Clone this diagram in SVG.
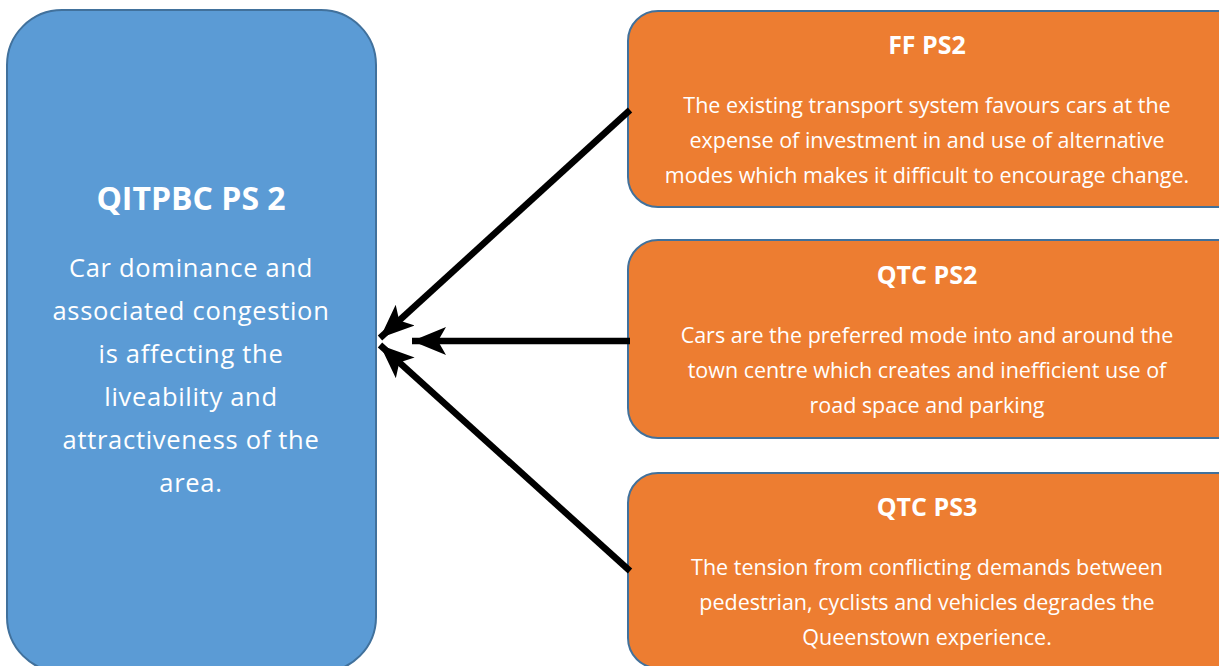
<svg xmlns="http://www.w3.org/2000/svg" width="1219" height="666" viewBox="0 0 1219 666">
<defs>
<style>
.blue{fill:#5B9BD5;stroke:#41719C;stroke-width:2}
.orange{fill:#ED7D31;stroke:#41719C;stroke-width:2}
text{font-family:"Open Sans","Liberation Sans",sans-serif;fill:#FFFFFF;text-anchor:middle}
.t1{font-size:32px;font-weight:bold}
.b1{font-size:25.5px;letter-spacing:0.7px}
.t2{font-size:25px;font-weight:bold}
.b2{font-size:21.5px}
.conn{stroke:#000;stroke-width:6.5;fill:none}
</style>
<marker id="ah" markerUnits="userSpaceOnUse" markerWidth="36" markerHeight="28" refX="34" refY="14" orient="auto">
<path d="M0,0 L34,14 L0,28 L8,14 Z" fill="#000"/>
</marker>
</defs>
<rect width="1219" height="666" fill="#FFFFFF"/>
<g id="node-qitpbc">
<rect class="blue" x="7" y="10" width="369" height="662" rx="55" ry="55"/>
<text class="t1" x="191" y="210">QITPBC PS 2</text>
<text class="b1" x="191" y="277">Car dominance and</text>
<text class="b1" x="191" y="320">associated congestion</text>
<text class="b1" x="191" y="363">is affecting the</text>
<text class="b1" x="191" y="406">liveability and</text>
<text class="b1" x="191" y="449">attractiveness of the</text>
<text class="b1" x="191" y="492">area.</text>
</g>
<g id="node-ffps2">
<rect class="orange" x="628" y="11" width="620" height="196" rx="30" ry="30"/>
<text class="t2" x="927" y="54">FF PS2</text>
<text class="b2" x="927" y="113">The existing transport system favours cars at the</text>
<text class="b2" x="927" y="148">expense of investment in and use of alternative</text>
<text class="b2" x="927" y="183">modes which makes it difficult to encourage change.</text>
</g>
<g id="node-qtcps2">
<rect class="orange" x="628" y="240" width="620" height="198" rx="30" ry="30"/>
<text class="t2" x="927" y="284">QTC PS2</text>
<text class="b2" x="927" y="343">Cars are the preferred mode into and around the</text>
<text class="b2" x="927" y="378">town centre which creates and inefficient use of</text>
<text class="b2" x="927" y="413">road space and parking</text>
</g>
<g id="node-qtcps3">
<rect class="orange" x="628" y="473" width="620" height="195" rx="30" ry="30"/>
<text class="t2" x="927" y="516">QTC PS3</text>
<text class="b2" x="927" y="575">The tension from conflicting demands between</text>
<text class="b2" x="927" y="610">pedestrian, cyclists and vehicles degrades the</text>
<text class="b2" x="927" y="645">Queenstown experience.</text>
</g>
<g id="connectors">
<line class="conn" x1="630" y1="110" x2="380" y2="338" marker-end="url(#ah)"/>
<line class="conn" x1="630" y1="341" x2="412" y2="341" marker-end="url(#ah)"/>
<line class="conn" x1="630" y1="571" x2="380" y2="345" marker-end="url(#ah)"/>
</g>
</svg>
